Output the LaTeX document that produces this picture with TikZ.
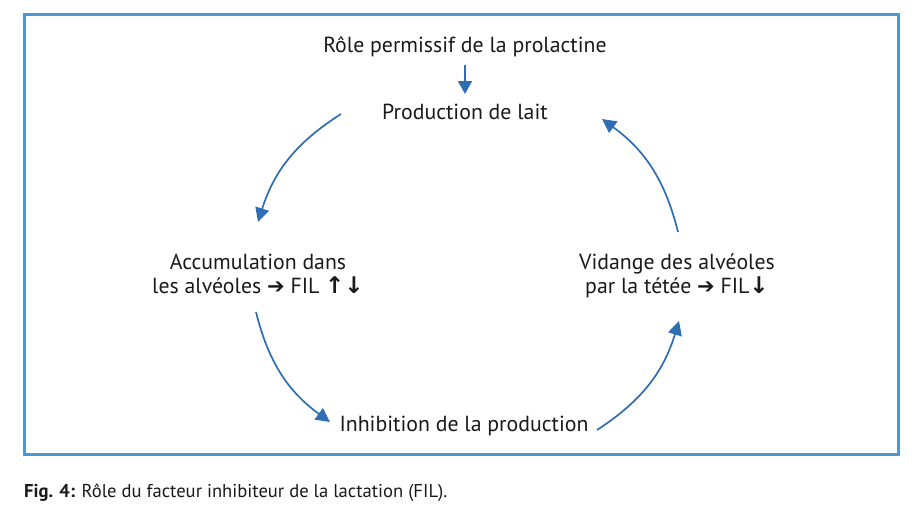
\documentclass[tikz,border=0pt]{standalone}
\usepackage{fontspec}
\setmainfont{PT Sans}
\newfontfamily\symf{DejaVu Sans}
\usetikzlibrary{arrows.meta}
\definecolor{framecol}{HTML}{4A98D6}
\definecolor{arrcol}{HTML}{2F6DB4}
\definecolor{txtcol}{HTML}{1A1A1A}
\tikzset{
  lbl/.style={font=\fontsize{21.8}{25}\selectfont, text=txtcol, align=center, inner sep=0pt, anchor=base},
  cyc/.style={draw=arrcol, line width=1.7pt, -{Triangle[length=14pt,width=14pt]}, bend right=20},
}
\newcommand{\rar}{{\symf\bfseries\fontsize{21}{20}\selectfont ➔}}
\newcommand{\uar}{{\symf\bfseries\fontsize{23}{20}\selectfont ↑}}
\newcommand{\dar}{{\symf\bfseries\fontsize{23}{20}\selectfont ↓}}
\begin{document}
\begin{tikzpicture}[x=1pt,y=-1pt]
\useasboundingbox (0,0) rectangle (922,522);
\draw[framecol, line width=3pt] (24,14) rectangle (898,454);
\node[lbl] (role) at (465,52) {Rôle permissif de la prolactine};
\node[lbl] (prod) at (465,119) {Production de lait};
\node[lbl] (acc1) at (258,269) {Accumulation dans};
\node[lbl] (acc2) at (258,293) {les alvéoles \rar{} FIL \uar\dar};
\node[lbl] (vid1) at (677,269) {Vidange des alvéoles};
\node[lbl] (vid2) at (677,293) {par la tétée \rar{} FIL\dar};
\node[lbl] (inh) at (464,431) {Inhibition de la production};
\node[font=\fontsize{18.6}{22}\selectfont, text=txtcol, anchor=base west, inner sep=0pt] (cap) at (24,497) {\textbf{Fig. 4:} Rôle du facteur inhibiteur de la lactation (FIL).};
\coordinate (t1) at (465,65);
\coordinate (t2) at (465,94);
\draw[draw=arrcol, line width=1.7pt, -{Triangle[length=13pt,width=14pt]}] (t1) -- (t2);
\coordinate (a1) at (341,114);
\coordinate (a2) at (258,222);
\coordinate (b1) at (256,312);
\coordinate (b2) at (330,422);
\coordinate (c1) at (597,430);
\coordinate (c2) at (679,321);
\coordinate (d1) at (678,232);
\coordinate (d2) at (602,119);
\draw[cyc] (a1) to (a2);
\draw[cyc] (b1) to (b2);
\draw[cyc] (c1) to (c2);
\draw[cyc] (d1) to (d2);
\end{tikzpicture}
\end{document}
